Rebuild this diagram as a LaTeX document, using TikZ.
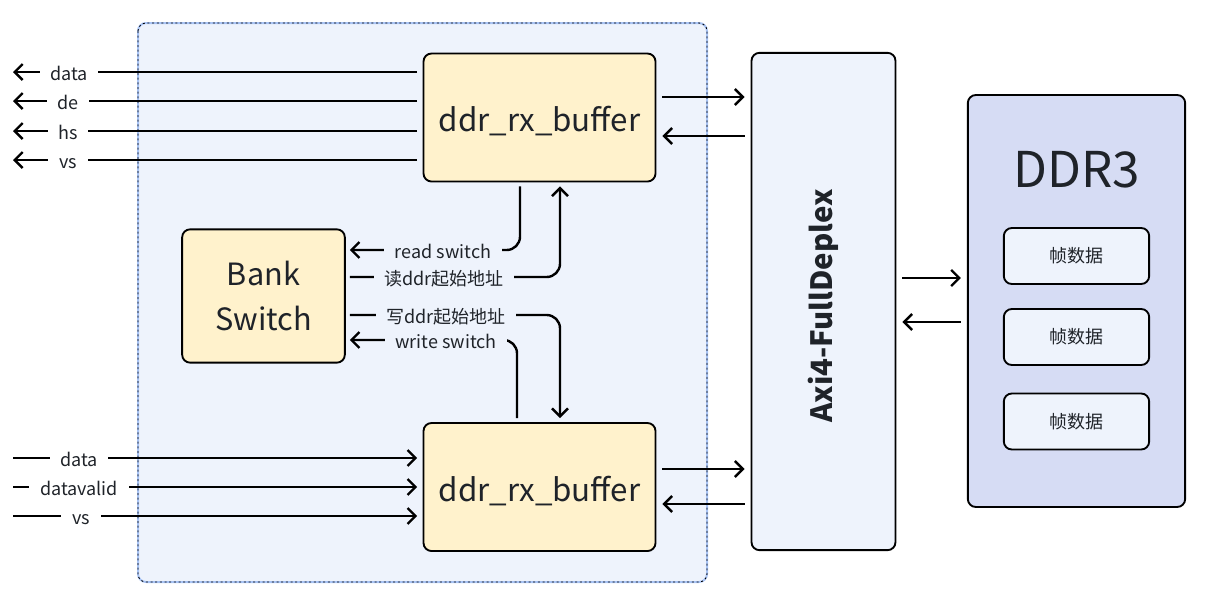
\documentclass[tikz,border=0pt]{standalone}
\usepackage{fontspec}
\setmainfont{Noto Sans CJK SC}
\usetikzlibrary{arrows.meta}

\definecolor{regionfill}{HTML}{EEF3FC}
\definecolor{regionline}{HTML}{A9C4F5}
\definecolor{buffill}{HTML}{FFF2CC}
\definecolor{ddrfill}{HTML}{D6DCF4}
\definecolor{txt}{HTML}{1F2329}

\begin{document}
\begin{tikzpicture}[
        x=0.75pt, y=-0.75pt,
        every node/.style={text=txt},
        blk/.style={draw, line width=1.4pt, rounded corners=6pt, align=center, inner sep=0pt},
        buf/.style={blk, fill=buffill, minimum width=174pt, minimum height=96pt, text height=22pt, text depth=0.5pt, font=\fontsize{23.5}{28}\selectfont},
        ar/.style={-{Straight Barb[length=6pt,width=12pt]}, line width=1.8pt},
        lbl/.style={fill=regionfill, inner xsep=8pt, inner ysep=1pt, text height=12pt, text depth=0pt, font=\fontsize{13.5}{15}\selectfont},
        sig/.style={lbl, fill=white},
        gap/.style={shorten <=4.5pt, shorten >=4.5pt},
        near/.style={shorten <=3pt, shorten >=3pt},
    ]

    \useasboundingbox (0,0) rectangle (1211,601);

    % dashed group
    \draw[draw=regionline, line width=1.5pt, fill=regionfill, rounded corners=6pt] (138,23) rectangle (707,582);
    \draw[dash pattern=on 1.5pt off 2pt, line width=0.6pt, rounded corners=6pt] (138,23) rectangle (707,582);

    \node[buf] (rxtop) at (539.5,117.5) {ddr\_rx\_buffer};
    \node[buf] (rxbot) at (539.5,487) {ddr\_rx\_buffer};
    \node[blk, fill=buffill, minimum width=122pt, minimum height=100pt, font=\fontsize{23}{34}\selectfont] (bank) at (263.5,296) {Bank\\Switch};

    \node[blk, fill=regionfill, minimum width=108pt, minimum height=373pt] (axi) at (823.5,301.5) {};
    \node[rotate=90, font=\bfseries\fontsize{22}{26}\selectfont] (axitxt) at (823.5,306) {Axi4-FullDeplex};

    \node[blk, fill=ddrfill, minimum width=163pt, minimum height=309pt] (ddr) at (1076.5,301) {};
    \node[font=\fontsize{37}{40}\selectfont] (ddrtxt) at (1076.5,170) {DDR3};
    \foreach \i/\y in {1/256, 2/337, 3/421.5}
        \node[blk, fill=regionfill, minimum width=109pt, minimum height=42pt, font=\fontsize{13.5}{16}\selectfont] (f\i) at (1076.5,\y) {帧数据};

    % outputs of the read buffer
    \foreach \s/\x/\y in {data/69/72, de/68/101, hs/68/131, vs/68/160} {
        \coordinate (o\s) at (13,\y);
        \draw[ar, shorten <=4pt] (rxtop.west |- o\s) -- (o\s);
        \node[sig] (lo\s) at (\x,\y) {\s};
    }

    % inputs of the write buffer
    \foreach \s/\x/\y in {data/79/458, datavalid/79/487, vs/81/516} {
        \coordinate (i\s) at (13,\y);
        \draw[ar, shorten >=4pt] (i\s) -- (rxbot.west |- i\s);
        \node[sig] (li\s) at (\x,\y) {\s};
    }

    % buffers <-> axi <-> ddr
    \coordinate (ya) at (0,97);
    \coordinate (yb) at (0,136);
    \coordinate (yc) at (0,469);
    \coordinate (yd) at (0,504);
    \coordinate (ye) at (0,278);
    \coordinate (yf) at (0,322);
    \draw[ar, gap] (rxtop.east |- ya) -- (axi.west |- ya);
    \draw[ar, gap] (axi.west |- yb) -- (rxtop.east |- yb);
    \draw[ar, gap] (rxbot.east |- yc) -- (axi.west |- yc);
    \draw[ar, gap] (axi.west |- yd) -- (rxbot.east |- yd);
    \draw[ar, gap] (axi.east |- ye) -- (ddr.west |- ye);
    \draw[ar, gap] (ddr.west |- yf) -- (axi.east |- yf);

    % bank switch links
    \coordinate (xrs) at (520,0);
    \coordinate (xra) at (560,0);
    \coordinate (xwa) at (560,0);
    \coordinate (xws) at (517,0);
    \coordinate (crs) at (443,250);
    \coordinate (cra) at (444,277);
    \coordinate (cwa) at (446,315);
    \coordinate (cws) at (446,340);

    \draw[ar, near, rounded corners=10pt] (rxtop.south -| xrs) -- (xrs |- crs) -- (bank.east |- crs);
    \draw[ar, near, rounded corners=10pt] (bank.east |- cra) -- (xra |- cra) -- (rxtop.south -| xra);
    \draw[ar, near, rounded corners=10pt] (bank.east |- cwa) -- (xwa |- cwa) -- (rxbot.north -| xwa);
    \draw[ar, near, rounded corners=10pt] (rxbot.north -| xws) -- (xws |- cws) -- (bank.east |- cws);

    \node[lbl] (lrs) at (crs) {read switch};
    \node[lbl] (lra) at (cra) {读ddr起始地址};
    \node[lbl] (lwa) at (cwa) {写ddr起始地址};
    \node[lbl] (lws) at (cws) {write switch};
\end{tikzpicture}
\end{document}
